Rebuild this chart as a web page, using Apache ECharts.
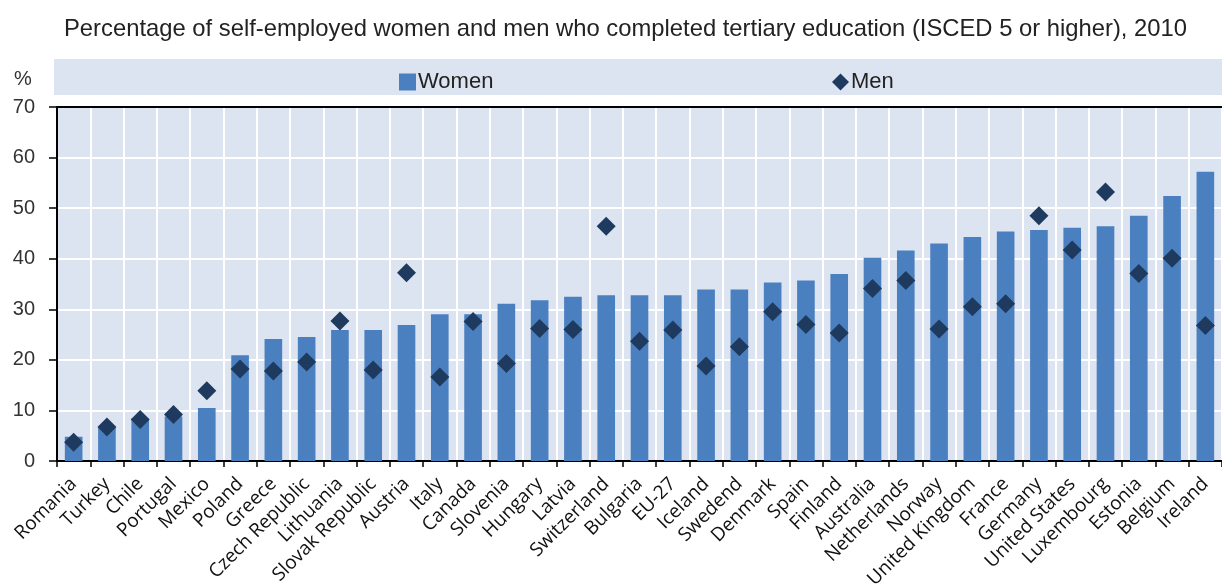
<!DOCTYPE html>
<html>
<head>
<meta charset="utf-8">
<script src="https://cdn.jsdelivr.net/npm/echarts@6/dist/echarts.min.js"></script>
<style>
  html, body { margin: 0; padding: 0; background: #fff; }
  #chart { width: 1222px; height: 586px; }
</style>
</head>
<body>
<div id="chart"></div>
<script>
// countries, sorted by share of women
const countries = [
  "Romania", "Turkey", "Chile", "Portugal", "Mexico", "Poland", "Greece",
  "Czech Republic", "Lithuania", "Slovak Republic", "Austria", "Italy",
  "Canada", "Slovenia", "Hungary", "Latvia", "Switzerland", "Bulgaria",
  "EU-27", "Iceland", "Swedend", "Denmark", "Spain", "Finland", "Australia",
  "Netherlands", "Norway", "United Kingdom", "France", "Germany",
  "United States", "Luxembourg", "Estonia", "Belgium", "Ireland"
];
const women = [
  4.8, 6.6, 8.4, 8.8, 10.5, 20.9, 24.1, 24.5, 25.9, 25.9, 26.9, 29.0,
  29.0, 31.1, 31.8, 32.5, 32.8, 32.8, 32.8, 33.9, 33.9, 35.3, 35.7, 37.0,
  40.2, 41.6, 43.0, 44.3, 45.4, 45.7, 46.1, 46.4, 48.5, 52.4, 57.2
];
const men = [
  3.7, 6.7, 8.2, 9.2, 13.9, 18.2, 17.8, 19.6, 27.7, 18.0, 37.2, 16.6,
  27.6, 19.3, 26.2, 26.0, 46.4, 23.7, 25.9, 18.8, 22.6, 29.5, 27.0, 25.3,
  34.1, 35.7, 26.1, 30.5, 31.1, 48.5, 41.7, 53.2, 37.1, 40.1, 26.8
];
const yTicks = [0, 10, 20, 30, 40, 50, 60, 70];

const chart = echarts.init(document.getElementById("chart"));

const option = {
  animation: false,
  backgroundColor: "#ffffff",
  title: {
    text: "Percentage of self-employed women and men who completed tertiary education (ISCED 5 or higher), 2010",
    left: 59,
    top: 12,
    textStyle: { fontFamily: "Liberation Sans", fontSize: 23.8, fontWeight: "normal", color: "#222" }
  },
  graphic: [
    {
      type: "rect",
      z: -1,
      shape: { x: 54, y: 59, width: 1168, height: 36 },
      style: { fill: "#dde4f1" }
    },
    {
      type: "text",
      left: 14,
      top: 69,
      style: { text: "%", fontFamily: "Liberation Sans", fontSize: 20, fill: "#333" }
    }
  ],
  legend: [
    {
      data: [{ name: "Women", icon: "rect" }],
      left: 394,
      top: 66,
      itemWidth: 17,
      itemHeight: 17,
      textStyle: { fontFamily: "Liberation Sans", fontSize: 22, color: "#222", padding: [0, 0, 0, -3] }
    },
    {
      data: ["Men"],
      left: 827,
      top: 66,
      itemWidth: 17,
      itemHeight: 17,
      textStyle: { fontFamily: "Liberation Sans", fontSize: 22, color: "#222", padding: [0, 0, 0, -3] }
    }
  ],
  grid: {
    left: 57,
    right: 0,
    top: 107,
    bottom: 125,
    show: true,
    backgroundColor: "#dde4f1",
    borderWidth: 0,
    containLabel: false,
    outerBoundsMode: "none"
  },
  xAxis: [
    {
      type: "category",
      data: countries,
      axisLine: { lineStyle: { color: "#000", width: 2 } },
      axisTick: { show: true, interval: 0, length: 6, lineStyle: { color: "#000", width: 1.5 } },
      axisLabel: {
        interval: 0,
        rotate: 45,
        margin: 20,
        fontFamily: "Open Sans",
        fontSize: 19,
        color: "#111"
      },
      splitLine: { show: true, interval: 0, lineStyle: { color: "#ffffff", width: 2 } }
    },
    {
      type: "category",
      position: "top",
      data: countries,
      axisLine: { lineStyle: { color: "#000", width: 2 } },
      axisTick: { show: false },
      axisLabel: { show: false }
    }
  ],
  yAxis: {
    type: "value",
    min: yTicks[0],
    max: yTicks[yTicks.length - 1],
    interval: 10,
    axisLine: { show: true, lineStyle: { color: "#000", width: 2 } },
    axisTick: { show: true, length: 8, lineStyle: { color: "#000", width: 1.5 } },
    axisLabel: { fontFamily: "Liberation Sans", fontSize: 20, color: "#333", margin: 22 },
    splitLine: { show: true, lineStyle: { color: "#ffffff", width: 2 } }
  },
  series: [
    {
      name: "Women",
      type: "bar",
      data: women,
      barWidth: "53%",
      itemStyle: { color: "#4a80c0" }
    },
    {
      name: "Men",
      type: "scatter",
      data: men,
      symbol: "diamond",
      symbolSize: [19, 19],
      itemStyle: { color: "#1f3a5f", opacity: 1 },
      z: 3
    }
  ]
};

chart.setOption(option);
</script>
</body>
</html>
